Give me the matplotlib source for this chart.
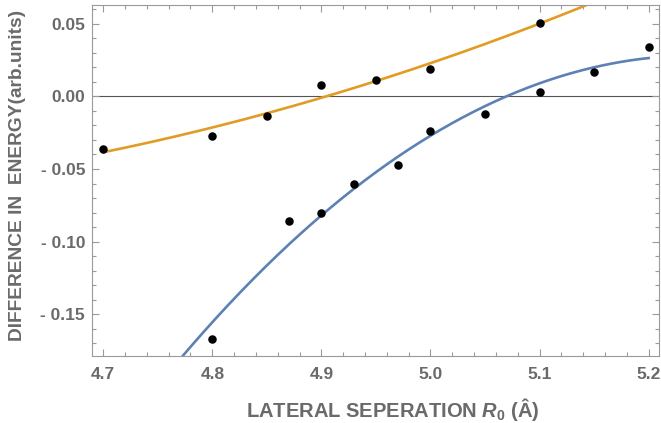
import numpy as np
import matplotlib.pyplot as plt
from matplotlib.ticker import MultipleLocator, FuncFormatter

plt.rcParams['font.family'] = ['Liberation Sans', 'DejaVu Sans']
plt.rcParams['font.weight'] = 'bold'
plt.rcParams['mathtext.fontset'] = 'custom'
plt.rcParams['mathtext.rm'] = 'Liberation Sans:bold'
plt.rcParams['mathtext.it'] = 'Liberation Sans:italic:bold'
plt.rcParams['mathtext.bf'] = 'Liberation Sans:bold'

# upper branch (orange fit)
x_up = [4.70, 4.80, 4.85, 4.90, 4.95, 5.00, 5.10]
y_up = [-0.0363, -0.0275, -0.0138, 0.0077, 0.0112, 0.0190, 0.0504]

# lower branch (blue fit)
x_lo = [4.80, 4.87, 4.90, 4.93, 4.97, 5.00, 5.05, 5.10, 5.15, 5.20]
y_lo = [-0.1670, -0.0855, -0.0801, -0.0600, -0.0475, -0.0238, -0.0125, 0.0027, 0.0165, 0.0340]

x_ticks = [4.7, 4.8, 4.9, 5.0, 5.1, 5.2]
y_ticks = [-0.15, -0.10, -0.05, 0.00, 0.05]

gray = '#9a9a9a'
label_col = '#6a6a6a'
orange = '#e19c24'
blue = '#5e81b5'

fig = plt.figure(figsize=(6.61, 4.23), dpi=100)
ax = fig.add_axes([92/661, 67/423, 567/661, 350.5/423])

xs = np.linspace(4.7, 5.2, 300)
p_up = np.polyfit(x_up, y_up, 2)
p_lo = np.polyfit(x_lo, y_lo, 2)
ax.plot(xs, np.polyval(p_up, xs), color=orange, lw=1.9, zorder=2)
ax.plot(xs, np.polyval(p_lo, xs), color=blue, lw=1.9, zorder=2)
ax.axhline(0, color='#555555', lw=0.8, zorder=1)

ax.scatter(x_up, y_up, s=26, color='black', zorder=3)
ax.scatter(x_lo, y_lo, s=26, color='black', zorder=3)

ax.set_xlim(4.6897, 5.2095)
ax.set_ylim(-0.1787, 0.0625)

ax.set_xticks(x_ticks)
ax.set_yticks(y_ticks)
ax.xaxis.set_minor_locator(MultipleLocator(0.02))
ax.yaxis.set_minor_locator(MultipleLocator(0.01))
ax.xaxis.set_major_formatter(FuncFormatter(lambda v, p: f"{v:.1f}"))
ax.yaxis.set_major_formatter(FuncFormatter(
    lambda v, p: f"- {abs(v):.2f}" if v < -1e-9 else f"{abs(v):.2f}"))

ax.tick_params(which='both', direction='in', top=True, right=True,
               color=gray, width=0.8, labelcolor=label_col, labelsize=12.5)
ax.tick_params(which='major', length=5)
ax.tick_params(which='minor', length=3)
ax.tick_params(axis='x', pad=8)
ax.tick_params(axis='y', pad=5)
for s in ax.spines.values():
    s.set_color(gray)
    s.set_linewidth(0.8)

ax.set_xlabel(r'LATERAL SEPERATION $R_0$ (Â)', fontsize=14.5,
              color=label_col, fontweight='bold')
ax.set_ylabel('DIFFERENCE IN  ENERGY(arb.units)', fontsize=13.8,
              color=label_col, fontweight='bold')
ax.xaxis.set_label_coords(0.53, -0.113)
ax.yaxis.set_label_coords(-0.116, 0.515)

plt.savefig('out.png', dpi=100)
